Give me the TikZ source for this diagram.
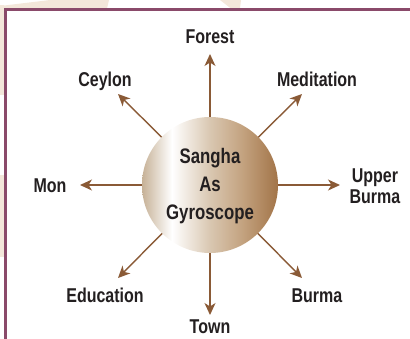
\documentclass[tikz,border=0pt]{standalone}
\usepackage{fontspec}
\setmainfont{Liberation Sans}[FakeStretch=0.8]
\usetikzlibrary{arrows.meta}
\definecolor{framec}{HTML}{8A4A6A}
\definecolor{beige}{HTML}{F3E7DA}
\definecolor{arrowc}{HTML}{8A5A36}
\definecolor{txt}{HTML}{231F20}
\definecolor{sh1}{HTML}{C6B196}
\definecolor{sh3}{HTML}{D9C7B1}
\definecolor{sh4}{HTML}{C3A27F}
\definecolor{sh5}{HTML}{A27448}
\pgfdeclarehorizontalshading{gyro}{100bp}{color(0bp)=(sh1); color(25bp)=(sh1); color(36bp)=(white); color(50bp)=(sh3); color(62bp)=(sh4); color(75bp)=(sh5); color(100bp)=(sh5)}
\begin{document}
\begin{tikzpicture}[x=1pt,y=-1pt,
  lab/.style={font=\bfseries\fontsize{20}{20.5}\selectfont, text=txt, align=center, inner sep=0pt, anchor=base},
  arr/.style={draw=arrowc, line width=1.4pt, -{Stealth[length=12pt,width=11pt,inset=3.5pt]}}]
\useasboundingbox (0,0) rectangle (410,338);
% faint background pieces
\fill[beige] (0,6) -- (50,0) -- (109,0) -- (107,8.5) -- (0,8.5) -- cycle;
\fill[beige] (220,0) -- (241,0) -- (240,8.5) -- (231,8.5) -- cycle;
\fill[beige] (0,5) rectangle (4,95);
\fill[beige] (0,175) rectangle (4,257);
% frame
\draw[framec, line width=3pt] (5.3,345) -- (5.3,9.5) -- (415,9.5);
% centre and tips
\coordinate (c) at (210,185);
\coordinate (tF) at (210,54);
\coordinate (tC) at (118,94);
\coordinate (tM) at (302,94);
\coordinate (tL) at (80,185);
\coordinate (tR) at (340,185);
\coordinate (tE) at (118,278);
\coordinate (tB) at (302,278);
\coordinate (tT) at (210,315);
\foreach \t in {tF,tC,tM,tL,tR,tE,tB,tT} \draw[arr] (c) -- (\t);
% circle
\node[circle, minimum size=136pt, inner sep=0pt, shading=gyro] (hub) at (c) {};
\node[lab, font=\bfseries\fontsize{21}{28}\selectfont] (hubtxt) at (210,219.5) {Sangha\\As\\Gyroscope};
% labels
\node[lab] (forest) at (210,43) {Forest};
\node[lab] (ceylon) at (105,86.5) {Ceylon};
\node[lab] (medit) at (317,86.5) {Meditation};
\node[lab] (mon) at (50,192) {Mon};
\node[lab] (upper) at (375,203) {Upper\\Burma};
\node[lab] (educ) at (105,302) {Education};
\node[lab] (burma) at (317,302) {Burma};
\node[lab] (town) at (210,333.5) {Town};
\end{tikzpicture}
\end{document}
